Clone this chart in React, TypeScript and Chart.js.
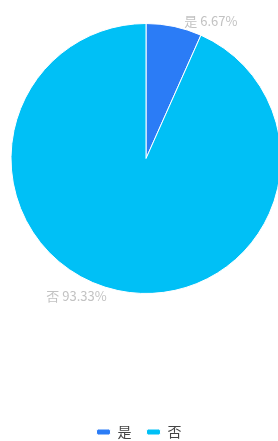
import React, { useEffect, useRef } from "react";
import { Chart, registerables } from "chart.js";

Chart.register(...registerables);

const categories: string[] = ["是", "否"];
const values: number[] = [6.67, 93.33];
const percentLabels: string[] = ["6.67%", "93.33%"];
const colors: string[] = ["#2b7cf6", "#00c0f6"];

const CENTER_X = 146;
const CENTER_Y = 158.5;
const RADIUS = 135;

const areaPlugin = {
  id: "pieArea",
  afterLayout(chart: any) {
    chart.chartArea.left = CENTER_X - RADIUS;
    chart.chartArea.right = CENTER_X + RADIUS;
    chart.chartArea.top = CENTER_Y - RADIUS;
    chart.chartArea.bottom = CENTER_Y + RADIUS;
    chart.chartArea.width = RADIUS * 2;
    chart.chartArea.height = RADIUS * 2;
  },
};

const outsideLabels = {
  id: "outsideLabels",
  afterDatasetsDraw(chart: any) {
    const ctx = chart.ctx;
    const meta = chart.getDatasetMeta(0);
    ctx.save();
    ctx.font = '13px "Noto Sans CJK SC", "Noto Sans", sans-serif';
    ctx.fillStyle = "#c2c2c2";
    ctx.textBaseline = "middle";
    meta.data.forEach((arc: any, i: number) => {
      const { x, y, startAngle, endAngle, outerRadius } = arc.getProps(
        ["x", "y", "startAngle", "endAngle", "outerRadius"],
        true
      );
      const mid = (startAngle + endAngle) / 2;
      const r = outerRadius + 6;
      const px = x + Math.cos(mid) * r;
      const py = y + Math.sin(mid) * r;
      const right = Math.cos(mid) >= 0;
      ctx.textAlign = right ? "left" : "right";
      const text = categories[i] + " " + percentLabels[i];
      ctx.fillText(text, px + (right ? 9 : -10), py);
    });
    ctx.restore();
  },
};

export default function App() {
  const ref = useRef<HTMLCanvasElement | null>(null);
  useEffect(() => {
    if (!ref.current) return;
    const chart = new Chart(ref.current, {
      type: "pie",
      data: {
        labels: categories,
        datasets: [
          {
            data: values,
            backgroundColor: colors,
            borderColor: "#ffffff",
            borderWidth: 1,
          },
        ],
      },
      options: {
        responsive: false,
        animation: false,
        radius: RADIUS,
        layout: { padding: { bottom: -8 } },
        plugins: {
          tooltip: { enabled: false },
          legend: {
            display: true,
            position: "bottom",
            labels: {
              boxWidth: 14,
              boxHeight: 6,
              useBorderRadius: true,
              borderRadius: 2,
              padding: 15,
              color: "#444444",
              font: { size: 14, family: '"Noto Sans CJK SC", "Noto Sans", sans-serif' },
            },
          },
        },
      } as any,
      plugins: [areaPlugin, outsideLabels],
    });
    return () => chart.destroy();
  }, []);
  return (
    <div style={{ position: "fixed", left: 0, top: 0, width: 278, height: 441, overflow: "hidden", background: "#fff" }}>
      <canvas ref={ref} width={278} height={441} style={{ display: "block" }} />
    </div>
  );
}
